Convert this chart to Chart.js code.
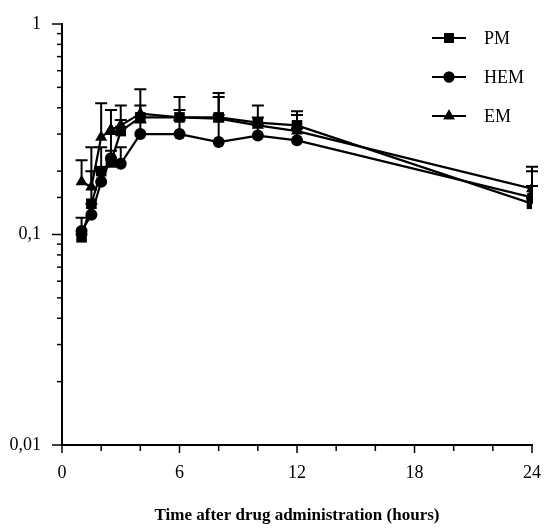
<!DOCTYPE html>
<html>
<head>
<meta charset="utf-8">
<script src="https://cdn.jsdelivr.net/npm/chart.js@4"></script>
<style>
  html, body { margin: 0; padding: 0; background: #fff; }
  #wrap { width: 545px; height: 530px; }
</style>
</head>
<body>
<div id="wrap"><canvas id="plasmaChart" width="545" height="530"></canvas></div>
<script>
// sampling times (hours)
const times = [1, 1.5, 2, 2.5, 3, 4, 6, 8, 10, 12, 24];

// mean concentrations
const pmValues  = [0.097, 0.14, 0.20, 0.22, 0.31, 0.36, 0.36, 0.36, 0.34, 0.33, 0.14];
const hemValues = [0.104, 0.124, 0.178, 0.23, 0.217, 0.30, 0.30, 0.275, 0.295, 0.28, 0.15];
const emValues  = [0.178, 0.168, 0.29, 0.315, 0.33, 0.375, 0.36, 0.355, 0.33, 0.31, 0.165];

// upper end of error bars
const pmUpper  = [0.10, 0.20, 0.26, 0.30, 0.35, 0.41, 0.39, 0.45, 0.36, 0.37, 0.20];
const hemUpper = [0.12, 0.14, 0.20, 0.25, 0.26, 0.34, 0.35, 0.37, 0.33, 0.32, 0.17];
const emUpper  = [0.225, 0.26, 0.42, 0.39, 0.41, 0.49, 0.45, 0.47, 0.41, 0.385, 0.21];

const seriesNames = ["PM", "HEM", "EM"];
const yTickLabels = ["0,01", "0,1", "1"];   // for 0.01, 0.1, 1
const xTickLabels = [0, 6, 12, 18, 24];

const serif = "'Liberation Serif', 'Times New Roman', serif";

function toPoints(vals) {
  return times.map((t, i) => ({ x: t, y: vals[i] }));
}

function decadeLabel(v) {
  const l = Math.log10(v);
  if (Math.abs(l - Math.round(l)) < 1e-6) {
    const idx = Math.round(l) + 2;
    return yTickLabels[idx] !== undefined ? yTickLabels[idx] : "";
  }
  return "";
}

const styles = [
  { pointStyle: "rect", radius: 7.5 },
  { pointStyle: "circle", radius: 6 },
  { pointStyle: "triangle", radius: 7 }
];
const uppers = [pmUpper, hemUpper, emUpper];

// error bars, drawn under the markers
const errorBars = {
  id: "errorBars",
  beforeDatasetsDraw(chart) {
    const ctx = chart.ctx;
    const xs = chart.scales.x, ys = chart.scales.y;
    ctx.save();
    ctx.strokeStyle = "#000";
    ctx.lineWidth = 2;
    chart.data.datasets.forEach((ds, d) => {
      ds.data.forEach((p, i) => {
        const x = xs.getPixelForValue(p.x);
        const y0 = ys.getPixelForValue(p.y);
        const y1 = ys.getPixelForValue(uppers[d][i]);
        ctx.beginPath();
        ctx.moveTo(x, y0);
        ctx.lineTo(x, y1);
        ctx.moveTo(x - 6, y1);
        ctx.lineTo(x + 6, y1);
        ctx.stroke();
      });
    });
    ctx.restore();
  }
};

// outward tick marks, long for labelled ticks
const tickMarks = {
  id: "tickMarks",
  afterDraw(chart) {
    const ctx = chart.ctx;
    const area = chart.chartArea;
    ctx.save();
    ctx.strokeStyle = "#000";
    ctx.lineWidth = 1.5;
    const ys = chart.scales.y;
    ys.ticks.forEach(t => {
      const y = ys.getPixelForValue(t.value);
      const len = decadeLabel(t.value) ? 10 : 5;
      ctx.beginPath();
      ctx.moveTo(area.left - len, y);
      ctx.lineTo(area.left, y);
      ctx.stroke();
    });
    const xs = chart.scales.x;
    xs.ticks.forEach(t => {
      const x = xs.getPixelForValue(t.value);
      const len = xTickLabels.includes(t.value) ? 8 : 6;
      ctx.beginPath();
      ctx.moveTo(x, area.bottom);
      ctx.lineTo(x, area.bottom + len);
      ctx.stroke();
    });
    ctx.restore();
  }
};

// legend with line + marker symbols
const lineLegend = {
  id: "lineLegend",
  afterDraw(chart) {
    const ctx = chart.ctx;
    const area = chart.chartArea;
    ctx.save();
    ctx.fillStyle = "#000";
    ctx.strokeStyle = "#000";
    ctx.font = "18px " + serif;
    ctx.textBaseline = "middle";
    seriesNames.forEach((name, i) => {
      const y = area.top + 14 + i * 39;
      const x0 = area.right - 100, x1 = area.right - 66;
      ctx.lineWidth = 2;
      ctx.beginPath();
      ctx.moveTo(x0, y);
      ctx.lineTo(x1, y);
      ctx.stroke();
      Chart.helpers.drawPoint(ctx, { pointStyle: styles[i].pointStyle, radius: styles[i].radius - 0.5, rotation: 0 }, (x0 + x1) / 2, y);
      ctx.fill();
      ctx.fillText(name, area.right - 48, y + 1);
    });
    ctx.restore();
  }
};

const ctx = document.getElementById("plasmaChart").getContext("2d");

new Chart(ctx, {
  type: "line",
  data: {
    datasets: [pmValues, hemValues, emValues].map((vals, i) => ({
      label: seriesNames[i],
      data: toPoints(vals),
      borderColor: "#000",
      backgroundColor: "#000",
      borderWidth: 2.2,
      pointStyle: styles[i].pointStyle,
      pointRadius: styles[i].radius,
      pointBackgroundColor: "#000",
      pointBorderColor: "#000",
      pointBorderWidth: 0,
      tension: 0,
      fill: false
    }))
  },
  options: {
    responsive: false,
    animation: false,
    events: [],
    layout: { padding: { left: 0, right: 13, top: 24, bottom: 0 } },
    plugins: {
      legend: { display: false },
      tooltip: { enabled: false }
    },
    scales: {
      x: {
        type: "linear",
        min: 0,
        max: 24,
        afterFit(scale) {
          scale.height = 85;
          scale.paddingRight = 0;
          scale.paddingLeft = 0;
        },
        grid: { display: false, drawOnChartArea: false },
        border: { display: true, color: "#000", width: 2 },
        ticks: {
          stepSize: 2,
          autoSkip: false,
          maxRotation: 0,
          padding: 9,
          color: "#000",
          font: { family: serif, size: 18 },
          callback: v => (xTickLabels.includes(v) ? String(v) : "")
        },
        title: {
          display: true,
          text: "Time after drug administration (hours)",
          color: "#000",
          font: { family: serif, size: 17, weight: "bold" },
          padding: { top: 0, bottom: 4 }
        }
      },
      y: {
        type: "logarithmic",
        min: 0.01,
        max: 1,
        afterFit(scale) {
          scale.width = 62;
          scale.paddingTop = 0;
          scale.paddingBottom = 0;
        },
        grid: { display: false, drawOnChartArea: false },
        border: { display: true, color: "#000", width: 2 },
        ticks: {
          autoSkip: false,
          padding: 13,
          color: "#000",
          font: { family: serif, size: 18 },
          callback: v => decadeLabel(v)
        }
      }
    }
  },
  plugins: [errorBars, tickMarks, lineLegend]
});
</script>
</body>
</html>
